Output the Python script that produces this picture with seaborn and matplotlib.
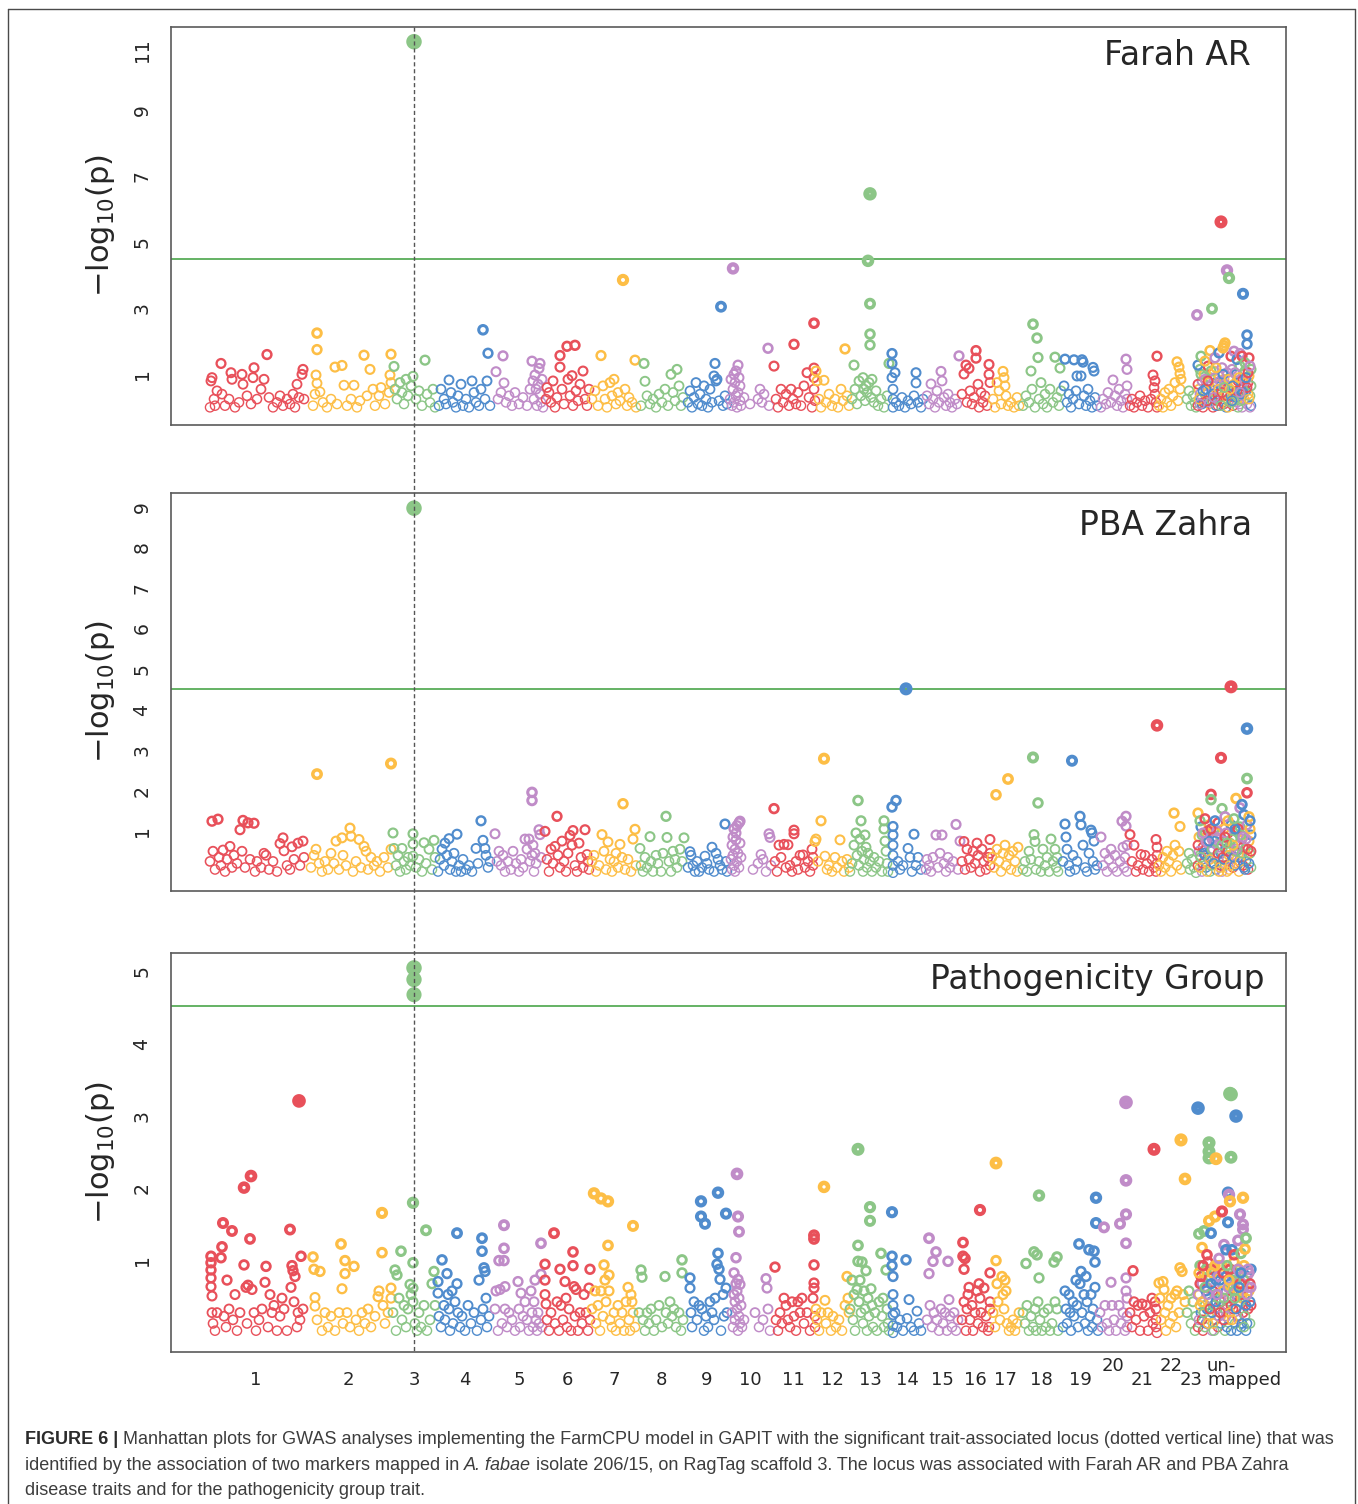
#!/usr/bin/env python3
"""
Manhattan plots (FarmCPU / GAPIT) for three traits, stacked, with the
significant locus on RagTag scaffold 3 marked by a dotted vertical line.
"""

import numpy as np
import pandas as pd
import matplotlib
matplotlib.use('Agg')
import matplotlib.pyplot as plt
from matplotlib.lines import Line2D
from matplotlib.transforms import blended_transform_factory
import seaborn as sns

# --- scaffolds -------------------------------------------------------------
chrom_names = [str(i) for i in range(1, 24)] + ['un-\nmapped']
chrom_lengths = [98, 87, 44, 58, 51, 45, 48, 47, 43, 44, 43, 35, 40, 35, 35, 30,
                 30, 42, 36, 30, 29, 29, 11, 55]
chrom_colors = ['#E8505A', '#FDBE46', '#8CC687', '#508CCD', '#C08CC8']

threshold = 4.55
locus_chrom, locus_pos = 3, 22

# --- Farah AR: (position within scaffold, -log10 p) per scaffold 1..23 -----
farah_ar_chr = [
    [(3,0.05),(4,0.85),(5,0.95),(7,0.3),(8,0.1),(10,0.55),(14,1.38),(15,0.45),(18,0.1),(22,0.3),(24,1.1),(25,0.9),(28,0.05),(32,0.2),(35,1.05),(36,0.75),(40,0.4),(44,0.15),(46,0.95),(47,1.25),(50,0.3),(54,0.6),(57,0.9),(60,1.65),(62,0.35),(66,0.05),(70,0.2),(73,0.4),(76,0.1),(80,0.3),(83,0.15),(86,0.45),(88,0.05),(90,0.75),(92,0.35),(95,1.05),(96,1.2),(97,0.3)],
    [(8,0.1),(10,0.45),(12,2.3),(12,1.8),(11,1.03),(12,0.78),(15,0.52),(18,0.2),(22,0.05),(26,0.3),(30,1.27),(32,0.15),(37,1.32),(39,0.72),(42,0.1),(46,0.3),(49,0.72),(52,0.05),(55,0.25),(59,1.63),(62,0.4),(65,1.2),(68,0.6),(70,0.1),(74,0.4),(76,0.65),(80,0.15),(84,0.5),(86,1.66),(85,1.03),(86,0.8)],
    [(2,1.29),(3,0.6),(5,0.3),(8,0.8),(10,0.5),(12,0.15),(14,0.9),(16,0.4),(19,0.7),(21,0.99),(22,11.13),(24,0.3),(27,0.55),(30,0.1),(33,1.48),(35,0.45),(38,0.2),(41,0.6),(43,0.05)],
    [(3,0.1),(5,0.6),(8,0.3),(10,0.15),(13,0.88),(15,0.5),(17,0.2),(20,0.05),(22,0.4),(25,0.75),(27,0.1),(30,0.3),(33,0.05),(36,0.85),(38,0.5),(40,0.2),(43,0.1),(45,0.6),(47,2.4),(49,0.3),(51,0.85),(52,1.69),(54,0.1)],
    [(2,1.13),(4,0.3),(7,0.5),(9,1.61),(10,0.79),(12,0.2),(15,0.4),(18,0.1),(21,0.5),(25,0.15),(29,0.35),(33,0.1),(36,0.6),(38,1.45),(39,0.85),(40,0.3),(41,1.03),(42,0.6),(43,0.1),(44,0.75),(45,1.23),(46,1.38),(46,0.45),(47,0.2),(48,0.9),(49,0.05)],
    [(1,0.3),(2,0.65),(4,0.5),(6,0.2),(8,0.85),(10,0.05),(12,0.35),(15,1.62),(15,1.27),(17,0.6),(19,0.15),(22,1.9),(23,0.9),(25,0.4),(27,1.01),(28,0.1),(30,1.93),(31,0.55),(33,0.25),(35,0.75),(38,1.15),(40,0.3),(42,0.1),(44,0.6)],
    [(2,0.3),(5,0.55),(8,0.1),(11,1.62),(13,0.7),(15,0.3),(17,0.05),(20,0.8),(22,0.4),(24,0.9),(26,0.15),(28,0.5),(30,0.25),(33,3.91),(35,0.6),(37,0.1),(39,0.35),(42,0.2),(45,1.48),(46,0.05)],
    [(3,0.1),(6,1.38),(7,0.84),(9,0.4),(12,0.15),(15,0.3),(18,0.05),(21,0.45),(24,0.2),(27,0.6),(30,0.1),(33,1.05),(35,0.5),(37,0.25),(39,1.2),(41,0.7),(43,0.1),(45,0.35)],
    [(3,0.2),(5,0.55),(7,0.05),(9,0.35),(11,0.8),(13,0.15),(15,0.45),(17,0.1),(19,0.7),(21,0.3),(23,0.05),(25,0.6),(27,0.2),(29,1.0),(30,1.38),(31,0.85),(32,0.9),(34,0.25),(36,3.1),(38,0.1),(40,0.4),(42,0.15)],
    [(2,0.3),(3,0.9),(4,0.1),(5,4.26),(5,0.6),(6,1.05),(6,0.2),(7,0.8),(8,0.4),(8,1.15),(9,0.05),(10,1.33),(10,0.5),(11,0.95),(12,0.25),(12,0.7),(13,0.1),(16,0.35),(22,0.15),(30,0.3),(32,0.6),(34,0.2),(36,0.45),(40,1.84),(41,0.1)],
    [(2,1.3),(4,0.3),(6,0.05),(9,0.6),(11,0.2),(14,0.45),(17,0.1),(19,0.6),(21,0.3),(22,1.96),(24,0.15),(26,0.5),(29,0.1),(32,0.7),(35,1.1),(37,0.35),(40,0.05),(42,2.6),(42,1.24),(42,0.95),(42,0.6),(43,0.25)],
    [(1,1.15),(2,0.85),(4,0.3),(6,0.05),(9,0.87),(11,0.2),(14,0.45),(17,0.1),(20,0.3),(23,0.05),(26,0.6),(28,0.25),(30,1.82),(32,0.4),(34,0.1)],
    [(2,0.3),(4,1.33),(5,0.6),(7,0.15),(9,0.85),(11,0.4),(13,0.95),(14,0.6),(15,0.25),(16,0.7),(17,0.5),(18,4.49),(19,0.8),(20,6.52),(20,3.19),(20,2.27),(20,1.94),(21,0.35),(22,0.9),(24,0.2),(26,0.55),(28,0.1),(31,0.3),(34,0.05),(37,0.4),(39,1.38)],
    [(2,1.68),(2,1.38),(2,0.95),(3,0.6),(3,0.3),(3,0.05),(5,1.1),(6,0.2),(9,0.1),(12,0.35),(15,0.05),(18,0.25),(21,0.15),(24,0.4),(26,1.1),(26,0.79),(28,0.2),(31,0.05),(33,0.3)],
    [(2,0.4),(4,0.15),(6,0.76),(8,0.3),(10,0.05),(12,0.55),(14,0.2),(16,1.14),(17,0.85),(19,0.35),(21,0.1),(23,0.45),(25,0.2),(27,0.05),(30,0.3),(32,0.15),(34,1.61)],
    [(2,0.45),(4,1.06),(6,1.33),(7,0.2),(9,1.23),(10,0.55),(12,0.15),(14,0.35),(16,1.77),(16,1.54),(18,0.75),(19,0.05),(21,0.5),(23,0.2),(25,0.4),(27,0.1),(29,1.35),(29,1.05),(30,0.8)],
    [(3,0.3),(5,0.05),(7,0.8),(9,0.55),(11,0.15),(13,1.14),(14,0.95),(15,0.7),(16,0.4),(18,0.1),(21,0.2),(24,0.05),(27,0.35),(29,0.1)],
    [(3,0.1),(6,0.4),(9,0.2),(11,1.15),(12,0.6),(13,2.57),(15,0.05),(17,2.15),(18,1.56),(19,0.3),(21,0.8),(23,0.15),(25,0.45),(27,0.05),(30,0.6),(33,0.2),(35,1.57),(37,0.35),(39,0.1),(40,1.24),(41,0.55)],
    [(2,0.7),(3,1.51),(5,0.2),(7,0.45),(9,0.05),(11,0.3),(12,1.49),(14,0.55),(15,1.0),(17,0.15),(19,1.0),(20,1.49),(21,1.42),(22,0.4),(24,0.1),(26,0.6),(28,0.25),(30,0.05),(31,1.26),(32,1.15),(33,0.35),(35,0.1)],
    [(3,0.05),(5,0.3),(8,0.15),(10,0.5),(13,0.2),(15,0.88),(17,0.4),(19,0.1),(21,0.6),(23,0.25),(25,0.05),(27,0.45),(28,1.51),(29,1.2),(29,0.7),(29,0.3)],
    [(2,0.1),(4,0.3),(6,0.05),(9,0.2),(12,0.4),(14,0.1),(17,0.25),(20,0.05),(23,0.3),(25,1.03),(26,0.65),(27,0.85),(27,0.45),(28,0.2),(29,1.6),(29,0.05)],
    [(2,0.1),(4,0.3),(6,0.05),(8,0.5),(10,0.2),(12,0.6),(14,0.1),(16,0.4),(18,0.8),(20,1.43),(21,0.25),(22,1.27),(23,0.6),(23,1.07),(24,0.9)],
    [(1,0.3),(3,0.55),(5,0.1),(7,0.4),(9,0.2),(10,0.05)],
]
farah_ar_unmapped = [(1,0.1),(2,0.6),(3,1.2),(4,0.3),(5,0.85),(6,0.05),(7,1.05),(8,0.45),(9,0.2),(10,0.7),(11,1.3),(12,0.15),(13,0.95),(14,0.4),(15,0.6),(16,0.05),(17,1.15),(18,0.3),(19,0.8),(20,0.55),(21,0.1),(22,1.0),(23,0.35),(24,0.7),(25,1.25),(26,0.2),(27,0.9),(28,0.5),(29,0.05),(30,1.1),(31,0.65),(32,0.25),(33,0.95),(34,0.4),(35,1.2),(36,0.1),(37,0.75),(38,0.5),(39,1.05),(40,0.2),(41,0.85),(42,0.35),(43,1.3),(44,0.6),(45,0.05),(46,0.9),(47,0.3),(48,1.15),(49,0.55),(50,0.15),(51,0.8),(52,1.0),(53,0.4),(54,0.1),
                     (3,0.45),(7,0.2),(11,0.5),(15,0.25),(19,0.1),(23,0.85),(27,0.15),(31,0.05),(35,0.55),(39,0.35),(43,0.15),(47,0.7),(51,0.45),(54,0.7),(5,0.15),(13,0.2),(21,0.45),(29,0.4),(37,0.25),(45,0.45),(53,0.05),
                     (1,0.75),(2,0.3),(4,1.05),(6,0.55),(8,0.9),(10,0.25),(12,0.8),(14,1.15),(16,0.45),(18,0.95),(20,0.25),(22,0.6),(24,0.1),(26,1.05),(28,0.75),(30,0.4),(32,0.9),(34,0.2),(36,0.7),(38,1.1),(40,0.55),(42,0.95),(44,0.25),(46,0.5),(48,0.85),(50,0.65),(52,0.3),(54,1.2),(9,0.6),(17,0.35),(25,0.5),(33,0.6),(41,0.05),(49,0.95),(3,0.15),(11,0.85),(19,1.25),(27,0.65),(35,0.25),(43,0.5),(51,1.1)]
# unmapped markers standing out from the block: (position, -log10 p, scaffold colour)
farah_ar_unmapped_top = [(0,2.85,4),(1,1.33,3),(4,1.6,2),(8,1.45,1),(13,1.77,1),(15,3.04,2),(18,1.55,4),(22,1.7,3),(24,5.67,0),(26,1.85,1),(27,1.92,1),(28,2.0,1),(30,4.2,4),(32,3.97,2),(34,1.6,0),(37,1.75,4),(40,1.5,3),(43,1.68,4),(45,1.6,0),(46,3.49,3),(48,1.4,2),(50,2.24,3),(50,1.97,3),(52,1.55,0),(53,1.3,4)]

# --- PBA Zahra -------------------------------------------------------------
pba_zahra_chr = [
    [(3,0.3),(5,1.29),(6,0.55),(8,0.1),(11,1.34),(12,0.4),(14,0.2),(16,0.58),(18,0.05),(20,0.35),(23,0.67),(25,0.15),(27,0.45),(30,0.25),(33,1.08),(35,0.55),(36,1.31),(38,0.15),(41,1.25),(43,0.35),(47,1.24),(48,0.05),(50,0.3),(54,0.15),(57,0.5),(59,0.45),(62,0.1),(66,0.3),(70,0.05),(73,0.74),(76,0.88),(77,0.56),(80,0.2),(83,0.1),(85,0.66),(87,0.35),(91,0.75),(93,0.2),(96,0.8),(97,0.4)],
    [(6,0.15),(9,0.45),(11,0.6),(12,2.45),(14,0.25),(17,0.05),(20,0.3),(23,0.1),(26,0.5),(29,0.25),(31,0.8),(34,0.1),(37,0.88),(38,0.45),(41,0.2),(45,1.12),(46,0.92),(48,0.05),(51,0.3),(54,0.84),(56,0.15),(59,0.67),(61,0.55),(63,0.1),(66,0.4),(69,0.2),(72,0.3),(75,0.05),(79,0.4),(83,0.15),(86,2.71),(86,0.6)],
    [(1,1.0),(2,0.62),(4,0.2),(6,0.45),(8,0.05),(10,0.62),(12,0.3),(14,0.1),(16,0.4),(18,0.2),(21,0.98),(21,0.73),(21,0.43),(22,9.0),(24,0.15),(27,0.35),(30,0.05),(32,0.76),(34,0.25),(37,0.6),(40,0.1),(42,0.82),(43,0.4)],
    [(2,0.05),(4,0.35),(6,0.6),(8,0.2),(9,0.75),(11,0.45),(13,0.86),(14,0.1),(16,0.3),(18,0.5),(20,0.05),(21,0.97),(23,0.2),(25,0.05),(27,0.35),(30,0.1),(33,0.2),(36,0.05),(40,0.62),(42,0.25),(45,1.3),(47,0.82),(49,0.62),(50,0.45),(52,0.15),(54,0.3)],
    [(1,0.98),(3,0.3),(5,0.55),(7,0.2),(9,0.45),(11,0.05),(14,0.3),(17,0.1),(19,0.55),(22,0.25),(25,0.05),(27,0.35),(29,0.15),(31,0.85),(33,0.6),(35,0.85),(36,0.3),(38,2.0),(38,1.8),(38,0.45),(39,0.7),(40,0.05),(41,0.5),(42,0.25),(45,1.08),(46,0.96),(47,0.4)],
    [(0,1.04),(2,0.35),(4,0.05),(6,0.6),(8,0.25),(10,0.67),(12,1.41),(13,0.45),(15,0.15),(17,0.8),(19,0.3),(21,0.05),(23,0.5),(25,0.94),(27,0.7),(28,1.06),(30,0.2),(32,0.05),(34,0.75),(36,0.4),(38,0.15),(40,1.08),(42,0.47),(43,0.3),(44,0.1)],
    [(2,0.3),(4,0.45),(6,0.05),(9,0.2),(12,0.96),(14,0.55),(16,0.1),(18,0.78),(20,0.35),(22,0.05),(24,0.3),(26,0.5),(28,0.15),(30,0.72),(32,0.4),(33,1.72),(35,0.1),(38,0.35),(41,0.05),(43,0.85),(45,1.09),(46,0.2)],
    [(2,0.62),(3,0.2),(5,0.05),(7,0.4),(9,0.15),(12,0.91),(13,0.3),(15,0.05),(18,0.45),(20,0.25),(23,0.05),(25,0.5),(28,1.41),(29,0.89),(31,0.3),(33,0.05),(35,0.55),(37,0.35),(39,0.15),(42,0.6),(44,0.3),(46,0.88)],
    [(3,0.15),(5,0.54),(6,0.45),(8,0.2),(10,0.05),(12,0.3),(14,0.05),(17,0.15),(20,0.43),(22,0.25),(24,0.1),(27,0.65),(29,0.05),(31,0.5),(33,0.35),(35,0.2),(37,0.1),(40,1.22),(41,0.3),(42,0.05)],
    [(3,0.35),(4,0.1),(4,0.7),(5,0.45),(5,0.9),(6,0.2),(6,1.1),(7,0.6),(7,0.05),(8,0.83),(8,1.0),(9,0.3),(9,1.18),(10,0.5),(11,1.25),(11,0.15),(12,1.29),(12,0.75),(13,0.4),(25,0.1),(30,0.25),(33,0.47),(35,0.35),(38,0.05),(41,0.98),(42,0.89),(43,0.2)],
    [(2,1.6),(3,0.3),(5,0.05),(7,0.7),(9,0.4),(12,0.72),(14,0.15),(16,0.71),(18,0.2),(20,0.05),(22,1.07),(22,0.98),(24,0.3),(26,0.1),(28,0.45),(31,0.46),(33,0.15),(36,0.3),(38,0.05),(40,0.6),(41,0.4),(41,0.2)],
    [(0,0.79),(1,0.85),(3,0.3),(6,1.3),(9,2.83),(10,0.43),(12,0.1),(14,0.2),(17,0.05),(20,0.4),(22,0.15),(25,0.83),(27,0.3),(29,0.05),(32,0.35),(34,0.15)],
    [(0,0.05),(2,0.25),(4,0.7),(6,1.0),(7,0.45),(8,1.8),(9,0.2),(10,0.85),(11,1.3),(12,0.55),(13,0.05),(14,0.35),(15,0.95),(16,0.65),(17,0.15),(18,0.5),(20,0.3),(22,0.05),(24,0.4),(26,0.15),(29,0.3),(32,0.05),(34,1.3),(34,1.1),(35,0.8),(36,0.55),(37,0.25),(38,0.05)],
    [(2,1.64),(3,1.16),(3,0.95),(3,0.7),(3,0.45),(3,0.2),(3,0.02),(6,1.8),(8,0.3),(10,0.1),(13,0.2),(16,4.55),(18,0.62),(20,0.4),(22,0.05),(24,0.97),(26,0.2),(28,0.4),(31,0.1)],
    [(1,0.1),(2,0.35),(4,0.2),(6,0.05),(8,0.4),(11,0.95),(13,0.15),(15,0.5),(17,0.95),(19,0.25),(21,0.05),(23,0.4),(25,0.15),(28,0.3),(31,1.21),(33,0.1),(35,0.8)],
    [(2,0.3),(4,0.79),(5,0.1),(7,0.6),(9,0.35),(11,0.15),(13,0.55),(15,0.25),(17,0.75),(18,0.45),(20,0.05),(22,0.6),(24,0.3),(26,0.1),(28,0.4),(30,0.84),(30,0.5),(30,0.2)],
    [(2,0.4),(4,0.15),(6,1.94),(7,0.6),(9,0.3),(11,0.05),(13,0.5),(15,0.7),(16,0.2),(18,2.33),(19,0.45),(21,0.1),(23,0.55),(25,0.3),(27,0.05),(28,0.65)],
    [(3,0.1),(5,0.3),(7,0.05),(9,0.55),(11,0.35),(13,2.86),(14,0.96),(15,0.79),(16,0.1),(18,1.74),(19,0.3),(21,0.05),(23,0.6),(25,0.2),(27,0.4),(29,0.05),(31,0.85),(33,0.3),(35,0.6),(36,0.15),(37,0.4),(38,0.05)],
    [(1,0.3),(3,1.22),(4,0.9),(5,0.6),(7,0.2),(8,0.05),(10,2.78),(11,0.45),(13,0.1),(15,0.3),(18,1.41),(19,1.2),(21,0.7),(23,0.15),(25,0.05),(27,0.5),(29,1.07),(30,1.0),(31,0.3),(32,0.8),(33,0.1),(35,0.2)],
    [(3,0.9),(5,0.2),(7,0.5),(9,0.05),(11,0.35),(13,0.6),(15,0.15),(17,0.45),(19,0.05),(22,0.3),(24,1.29),(25,0.65),(26,0.15),(27,0.4),(28,1.41),(28,1.17),(29,0.7),(29,0.05)],
    [(2,0.96),(4,0.3),(6,0.7),(8,0.05),(10,0.2),(13,0.47),(15,0.1),(17,0.45),(19,0.25),(21,0.05),(24,0.35),(26,0.15),(28,0.84),(29,0.65),(29,0.45),(29,0.25),(29,3.65),(28,0.05)],
    [(2,0.2),(4,0.05),(6,0.4),(8,0.15),(10,0.55),(12,0.3),(14,0.05),(16,0.45),(17,1.49),(18,0.7),(20,0.2),(22,0.55),(23,1.16),(24,0.1)],
    [(1,0.25),(3,0.5),(4,0.1),(6,0.35),(8,0.15),(10,0.02)],
]
pba_zahra_unmapped = [(1,0.2),(2,0.9),(3,0.45),(4,1.15),(5,0.05),(6,0.65),(7,0.3),(8,1.0),(9,0.15),(10,0.75),(11,0.4),(12,1.2),(13,0.05),(14,0.55),(15,0.85),(16,0.25),(17,1.05),(18,0.4),(19,0.1),(20,0.7),(21,1.25),(22,0.3),(23,0.95),(24,0.5),(25,0.05),(26,0.8),(27,1.1),(28,0.2),(29,0.6),(30,0.35),(31,1.0),(32,0.1),(33,0.75),(34,1.2),(35,0.45),(36,0.15),(37,0.9),(38,0.55),(39,1.05),(40,0.25),(41,0.7),(42,0.05),(43,1.15),(44,0.4),(45,0.85),(46,0.2),(47,1.0),(48,0.6),(49,0.3),(50,1.2),(51,0.1),(52,0.8),(53,0.5),(54,0.95),
                      (2,0.55),(6,0.25),(10,0.05),(14,0.2),(18,0.8),(22,0.65),(26,0.4),(30,0.05),(34,0.6),(38,0.2),(42,0.5),(46,0.65),(50,0.45),(54,0.15),(8,0.45),(16,0.6),(24,0.2),(32,0.45),(40,0.55),(48,0.1),(12,0.35),
                      (1,0.7),(3,0.15),(5,0.95),(7,0.5),(9,0.8),(11,1.05),(13,0.35),(15,0.6),(17,0.25),(19,0.9),(21,0.5),(23,0.15),(25,0.7),(27,0.35),(29,1.0),(31,0.55),(33,0.2),(35,0.85),(37,0.4),(39,0.6),(41,1.1),(43,0.3),(45,0.5),(47,0.15),(49,0.85),(51,0.6),(53,1.1),(4,0.4),(12,0.8),(20,1.05),(28,0.9),(36,0.7),(44,0.95),(52,0.25),(6,1.0),(14,1.1),(22,0.05),(30,0.75),(38,1.1),(46,0.9),(54,0.55)]
pba_zahra_unmapped_top = [(1,1.49,1),(3,1.3,2),(8,1.35,0),(14,1.95,0),(14,1.82,2),(18,1.3,3),(24,2.85,0),(25,1.6,2),(28,1.4,4),(31,1.3,1),(34,4.6,0),(37,1.35,2),(39,1.85,1),(43,1.62,4),(45,1.7,3),(47,1.45,3),(50,3.57,3),(50,2.34,2),(50,1.99,0),(52,1.4,1),(53,1.3,3)]

# --- Pathogenicity group -----------------------------------------------------
patho_group_chr = [
    [(4,1.08),(4,0.99),(4,0.89),(4,0.78),(4,0.66),(5,0.53),(5,0.3),(6,0.15),(8,0.05),(10,0.3),(14,1.06),(15,1.21),(16,1.54),(17,0.25),(19,0.1),(20,0.75),(22,0.35),(25,1.43),(26,0.2),(28,0.55),(30,0.05),(33,0.3),(37,2.03),(37,0.96),(39,0.65),(40,0.15),(41,0.68),(43,1.32),(44,2.19),(45,0.62),(47,0.3),(49,0.05),(52,0.2),(55,0.35),(58,0.72),(59,0.94),(61,0.1),(63,0.55),(65,0.3),(67,0.4),(70,0.05),(73,0.25),(75,0.5),(77,0.35),(80,0.05),(83,1.45),(84,0.65),(85,0.95),(86,0.88),(87,0.45),(88,0.8),(90,0.1),(91,0.3),(92,3.23),(93,0.2),(94,1.08),(96,0.35)],
    [(8,1.07),(9,0.9),(10,0.51),(10,0.39),(12,0.2),(15,0.87),(17,0.05),(20,0.3),(23,0.1),(26,0.25),(30,0.05),(34,0.3),(36,1.25),(37,0.63),(38,0.15),(40,1.02),(40,0.84),(42,0.3),(45,0.1),(49,0.94),(51,0.2),(54,0.05),(57,0.3),(60,0.15),(63,0.35),(66,0.1),(70,0.25),(73,0.52),(74,0.6),(77,1.68),(77,1.13),(78,0.4),(80,0.15),(83,0.3),(86,0.64),(86,0.5)],
    [(1,0.3),(3,0.89),(4,0.05),(5,0.82),(7,0.5),(9,1.15),(10,0.2),(12,0.4),(14,0.1),(16,0.35),(18,0.69),(19,0.55),(21,1.82),(21,0.99),(21,0.64),(21,0.45),(22,5.07),(22,4.91),(22,4.70),(23,0.15),(25,0.05),(27,0.3),(29,0.1),(32,0.4),(34,1.44),(35,0.05),(38,0.2),(40,0.7),(42,0.87),(43,0.4)],
    [(2,0.73),(2,0.57),(3,0.25),(5,0.1),(6,1.03),(8,0.4),(9,0.2),(11,0.84),(12,0.55),(13,0.35),(14,0.05),(16,0.6),(17,0.15),(19,0.45),(21,1.4),(21,0.7),(22,0.3),(24,0.1),(26,0.25),(29,0.05),(32,0.4),(35,0.15),(38,0.3),(41,0.05),(43,0.75),(45,0.2),(46,1.33),(46,1.15),(47,0.35),(48,0.92),(49,0.87),(50,0.5),(51,0.1),(53,0.25)],
    [(1,0.35),(2,0.6),(4,0.05),(5,1.02),(6,0.62),(8,0.15),(10,1.51),(10,1.19),(10,1.02),(11,0.66),(11,0.35),(13,0.1),(15,0.3),(18,0.2),(21,0.05),(24,0.73),(25,0.35),(26,0.1),(27,0.57),(29,0.25),(31,0.45),(33,0.2),(35,0.05),(37,0.6),(38,0.3),(39,0.1),(40,0.45),(41,0.75),(42,0.2),(43,0.05),(44,0.3),(45,0.15),(47,1.26),(47,0.83),(48,0.1)],
    [(0,0.97),(0,0.75),(0,0.55),(1,0.42),(2,0.2),(4,0.05),(6,0.3),(9,1.4),(10,0.15),(12,0.45),(14,0.05),(15,0.9),(16,0.4),(18,0.2),(20,0.73),(21,0.5),(22,0.1),(24,0.35),(26,0.05),(28,1.14),(28,0.95),(29,0.66),(30,0.25),(31,0.62),(33,0.05),(35,0.3),(37,0.15),(39,0.55),(41,0.3),(43,0.05),(44,0.64),(45,0.9),(45,0.2)],
    [(2,0.35),(4,1.95),(5,0.6),(6,0.15),(8,0.4),(10,0.05),(11,1.88),(11,0.6),(13,0.25),(14,0.96),(15,0.75),(16,0.45),(18,1.84),(18,1.23),(19,0.82),(19,0.6),(20,0.2),(22,0.1),(24,0.3),(26,0.05),(28,0.4),(30,0.15),(32,0.3),(34,0.05),(36,0.45),(38,0.65),(39,0.2),(40,0.05),(41,0.55),(42,0.45),(43,1.5),(43,0.3),(45,0.1)],
    [(1,0.3),(3,0.89),(4,0.79),(5,0.2),(7,0.05),(9,0.3),(11,0.15),(13,0.35),(16,0.05),(18,0.2),(21,0.4),(24,0.1),(27,0.8),(28,0.3),(30,0.15),(32,0.45),(34,0.25),(36,0.35),(38,0.1),(41,0.3),(43,0.05),(44,1.03),(44,0.85),(45,0.2)],
    [(5,0.78),(5,0.64),(6,0.3),(7,0.1),(9,0.45),(12,0.2),(14,0.4),(16,1.84),(16,1.63),(17,0.35),(19,0.05),(20,1.53),(21,0.25),(23,0.1),(25,0.45),(27,0.3),(29,0.2),(30,0.5),(32,0.97),(33,1.96),(33,1.12),(34,0.9),(35,0.76),(36,0.05),(38,0.55),(39,0.25),(41,1.67),(41,0.64),(42,0.3)],
    [(4,0.3),(5,0.1),(6,0.55),(6,0.85),(7,0.2),(7,0.45),(8,0.7),(8,1.06),(9,2.22),(9,0.6),(9,0.35),(10,1.63),(10,0.76),(10,0.05),(11,1.42),(11,0.5),(11,0.25),(12,0.69),(12,0.15),(13,0.4),(14,0.1),(16,0.2),(27,0.3),(31,0.1),(35,0.2),(38,0.77),(39,0.64),(40,0.35),(42,0.05)],
    [(3,0.93),(4,0.2),(6,0.05),(8,0.3),(10,0.15),(12,0.5),(14,0.4),(16,0.2),(18,0.1),(20,0.45),(22,0.25),(24,0.05),(26,0.45),(28,0.3),(30,0.5),(32,0.15),(35,0.3),(38,0.05),(41,0.5),(42,1.37),(42,1.32),(42,0.96),(42,0.71),(42,0.64),(43,0.25),(43,0.1)],
    [(1,0.35),(2,0.2),(4,0.05),(6,0.3),(9,2.04),(10,0.47),(11,0.15),(13,0.3),(16,0.05),(18,0.25),(21,0.1),(24,0.2),(27,0.05),(30,0.4),(32,0.8),(33,0.5),(34,0.3)],
    [(0,0.35),(2,0.75),(3,0.2),(4,0.55),(5,0.05),(7,0.62),(8,2.56),(8,1.23),(8,1.01),(9,0.45),(10,0.75),(11,0.3),(12,1.0),(13,0.15),(14,0.6),(15,0.35),(16,0.88),(17,0.05),(18,0.5),(19,0.25),(20,1.76),(20,1.57),(21,0.63),(22,0.4),(23,0.1),(25,0.3),(27,0.05),(29,0.45),(31,1.12),(32,0.25),(33,0.5),(34,0.1),(36,0.89),(37,0.35),(38,0.15),(39,0.05)],
    [(2,1.69),(2,1.08),(2,0.95),(3,0.8),(3,0.55),(3,0.4),(3,0.27),(3,0.12),(3,0.02),(5,0.3),(7,0.1),(10,0.2),(13,0.05),(16,1.03),(17,0.22),(19,0.48),(21,0.1),(24,0.05),(27,0.32),(29,0.15),(31,0.05)],
    [(2,0.2),(4,1.33),(4,0.84),(5,0.4),(7,0.1),(8,1.01),(9,0.3),(11,1.14),(12,0.2),(14,0.05),(16,0.35),(18,0.15),(20,0.3),(22,0.05),(23,1.01),(24,0.48),(25,0.25),(27,0.1),(29,0.3),(31,0.05),(33,0.2)],
    [(2,0.2),(3,1.27),(3,1.08),(4,0.9),(4,0.45),(5,1.05),(6,0.05),(7,0.35),(8,0.55),(9,0.65),(10,0.2),(12,0.4),(13,0.05),(15,0.3),(17,0.6),(18,0.15),(19,0.7),(20,1.72),(20,0.5),(21,0.3),(23,0.1),(24,0.64),(26,0.25),(28,0.05),(30,0.85),(30,0.45),(30,0.35),(29,0.1)],
    [(3,0.3),(5,0.1),(6,2.37),(6,1.02),(7,0.7),(8,0.45),(10,0.2),(12,0.8),(13,0.55),(14,0.35),(15,0.75),(16,0.6),(17,0.15),(19,0.05),(21,0.1),(23,0.2),(25,0.05),(27,0.15),(29,0.3)],
    [(3,0.3),(5,0.15),(6,0.98),(7,0.4),(9,0.05),(11,0.25),(13,0.1),(14,1.14),(15,0.35),(16,0.05),(17,1.1),(18,0.45),(19,1.92),(19,0.78),(20,0.2),(22,0.05),(24,0.3),(26,0.1),(28,0.35),(30,0.05),(32,0.15),(34,1.0),(35,0.45),(37,1.07),(37,0.35),(38,0.05)],
    [(1,0.1),(3,0.6),(4,0.35),(5,0.15),(7,0.55),(8,0.3),(9,0.05),(11,0.45),(12,0.25),(14,0.75),(15,0.4),(16,0.1),(17,1.25),(18,0.7),(19,0.87),(20,0.3),(22,0.55),(23,0.15),(24,0.8),(25,0.45),(26,0.05),(27,1.17),(28,0.25),(29,0.55),(30,0.1),(31,0.35),(32,1.15),(33,1.0),(33,0.65),(34,1.89),(34,1.54),(35,0.2),(36,0.05)],
    [(2,0.3),(4,0.1),(6,1.48),(7,0.4),(9,0.15),(11,0.05),(13,0.72),(14,0.4),(16,0.2),(18,0.05),(21,0.4),(22,1.53),(23,0.15),(25,0.3),(27,0.05),(28,3.21),(28,2.13),(28,1.66),(28,1.26),(28,0.78),(28,0.6),(29,0.5),(29,0.25),(29,0.1)],
    [(2,0.3),(4,0.1),(5,0.88),(6,0.45),(8,0.2),(10,0.4),(12,0.05),(14,0.42),(16,0.25),(18,0.4),(20,0.05),(22,0.3),(24,0.5),(25,0.15),(26,2.56),(27,0.45),(28,0.35),(28,0.2),(28,0.1),(29,0.02)],
    [(2,0.71),(3,0.5),(4,0.2),(6,0.73),(7,0.62),(8,0.3),(9,0.05),(11,0.4),(13,0.15),(14,0.5),(16,0.25),(18,0.55),(19,0.1),(20,0.6),(22,0.3),(23,0.92),(24,2.69),(25,0.87),(26,0.55),(28,2.15),(28,0.45)],
    [(1,0.3),(3,0.6),(5,0.15),(7,0.45),(9,0.05),(10,0.25)],
]
patho_group_unmapped = [(1,0.1),(2,0.55),(3,0.95),(4,0.3),(5,0.7),(6,0.05),(7,0.85),(8,0.4),(9,0.15),(10,0.65),(11,1.0),(12,0.25),(13,0.8),(14,0.45),(15,0.05),(16,0.6),(17,0.9),(18,0.2),(19,0.75),(20,0.35),(21,0.1),(22,0.95),(23,0.5),(24,0.15),(25,0.7),(26,0.3),(27,0.85),(28,0.05),(29,0.6),(30,0.4),(31,0.9),(32,0.2),(33,0.65),(34,0.05),(35,0.8),(36,0.35),(37,1.0),(38,0.15),(39,0.55),(40,0.75),(41,0.25),(42,0.9),(43,0.45),(44,0.1),(45,0.7),(46,0.3),(47,0.95),(48,0.5),(49,0.05),(50,0.8),(51,0.35),(52,0.6),(53,0.15),(54,0.9),
                        (2,0.2),(4,0.8),(6,0.45),(8,0.1),(10,0.35),(12,0.5),(14,0.9),(16,0.15),(18,0.55),(20,0.8),(22,0.25),(24,0.45),(26,0.6),(28,0.35),(30,0.1),(32,0.5),(34,0.4),(36,0.65),(38,0.8),(40,0.05),(42,0.2),(44,0.55),(46,0.6),(48,0.25),(50,0.15),(52,0.85),(54,0.4),
                        (3,0.4),(9,0.9),(15,0.3),(21,0.55),(27,0.2),(33,0.3),(39,0.85),(45,0.15),(51,0.65),(5,0.2),(11,0.15),(17,0.4),(23,0.75),(29,0.25),(35,0.5),(41,0.6),(47,0.1),(53,0.45),
                        (1,0.55),(3,0.7),(5,0.45),(7,0.3),(9,0.6),(11,0.55),(13,0.35),(15,0.85),(17,0.05),(19,0.45),(21,0.8),(23,0.3),(25,0.95),(27,0.5),(29,0.8),(31,0.65),(33,0.9),(35,0.2),(37,0.6),(39,0.35),(41,0.9),(43,0.7),(45,0.5),(47,0.75),(49,0.4),(51,0.9),(53,0.7),(2,0.85),(8,0.65),(14,0.7),(20,0.55),(26,0.85),(32,0.75),(38,0.5),(44,0.85),(50,0.55),(6,0.95),(18,0.95),(30,0.95),(42,0.65),(54,0.65)]
patho_group_unmapped_top = [(1,3.13,3),(2,1.39,2),(5,1.2,1),(7,1.43,2),(10,1.1,0),(12,2.65,2),(12,2.53,2),(12,2.44,2),(12,1.57,1),(14,1.4,3),(18,1.63,1),(19,2.43,1),(22,1.05,4),(25,1.7,0),(27,1.24,4),(29,1.17,3),(31,1.96,3),(31,1.55,3),(32,1.93,4),(33,3.33,2),(33,1.84,1),(34,3.32,2),(34,2.45,2),(35,1.17,3),(37,1.1,0),(39,3.02,3),(41,1.3,4),(43,1.66,4),(44,1.12,2),(46,1.89,1),(46,1.52,4),(46,1.45,4),(48,1.18,1),(49,1.33,2)]

# --- figure geometry (pixels of the 1358 x 1504 target) ----------------------
DPI = 100
W, H = 1358, 1504
PT = 72.0 / DPI
starts = np.concatenate([[0], np.cumsum(chrom_lengths)[:-1]])


def build_frame(chr_points, unmapped, unmapped_top):
    rows = []
    for i, pts in enumerate(chr_points):
        for pos, lp in pts:
            rows.append((starts[i] + pos, lp, i % 5))
    # many tiny unmapped scaffolds, colours keep cycling
    for j, (pos, lp) in enumerate(unmapped):
        rows.append((starts[23] + pos, lp, j % 5))
    for pos, lp, grp in unmapped_top:
        rows.append((starts[23] + pos, lp, grp))
    return pd.DataFrame(rows, columns=['x', 'logp', 'group'])


def draw_manhattan(ax, df):
    # ring gets thicker (and a bit larger) with -log10(p), like GAPIT
    f = df['logp'].to_numpy() / df['logp'].max()
    outer = 10.5 + 5 * f
    ring = np.minimum(1.3 + 8 * f, outer / 2)
    sizes = ((outer - ring) * PT) ** 2
    sns.scatterplot(data=df, x='x', y='logp', hue='group',
                    palette=dict(enumerate(chrom_colors)), legend=False,
                    ax=ax, zorder=3)
    pc = ax.collections[-1]
    pc.set_edgecolors(pc.get_facecolors())
    pc.set_facecolors('none')
    pc.set_sizes(sizes)
    pc.set_linewidths(ring * PT)


sns.set_style('white')
plt.rcParams['font.family'] = ['DejaVu Sans']

fig = plt.figure(figsize=(W / DPI, H / DPI), dpi=DPI)

panels = [
    ('Farah AR', build_frame(farah_ar_chr, farah_ar_unmapped, farah_ar_unmapped_top),
     [1, 3, 5, 7, 9, 11], (-0.485, 11.576), 27, 425, (1251, 65)),
    ('PBA Zahra', build_frame(pba_zahra_chr, pba_zahra_unmapped, pba_zahra_unmapped_top),
     list(range(1, 10)), (-0.429, 9.374), 493, 891, (1252, 535)),
    ('Pathogenicity Group', build_frame(patho_group_chr, patho_group_unmapped, patho_group_unmapped_top),
     [1, 2, 3, 4, 5], (-0.245, 5.277), 953, 1352, (1264, 989)),
]

LEFT, RIGHT = 171, 1286
axes = []
for title, df, yticks, ylim, top, bottom, (tx, ty) in panels:
    ax = fig.add_axes([LEFT / W, 1 - bottom / H, (RIGHT - LEFT) / W, (bottom - top) / H])
    draw_manhattan(ax, df)
    ax.axhline(threshold, color='#58AD58', lw=1.3, zorder=2)
    ax.set_xlim(-36, 1079)
    ax.set_ylim(*ylim)
    ax.set_xticks([])
    ax.set_xlabel('')
    ax.set_yticks(yticks)
    ax.set_yticklabels([str(t) for t in yticks])
    ax.tick_params(axis='y', length=0, pad=14, labelsize=13.5, labelrotation=90)
    ax.set_ylabel(r'$-\mathrm{log}_{10}(\mathrm{p})$', fontsize=22)
    ax.yaxis.set_label_coords(-0.048, 0.5)
    for sp in ax.spines.values():
        sp.set_color('#5a5a5a')
        sp.set_linewidth(1.2)
    ax.text((tx - LEFT) / (RIGHT - LEFT), 1 - (ty - top) / (bottom - top), title,
            transform=ax.transAxes, ha='right', va='baseline', fontsize=23.7)
    axes.append(ax)

# dotted line through all three panels at the associated locus
locus_x = starts[locus_chrom - 1] + locus_pos
xf = fig.transFigure.inverted().transform(axes[0].transData.transform((locus_x, 0)))[0]
fig.add_artist(Line2D([xf, xf], [1 - 27 / H, 1 - 1352 / H], transform=fig.transFigure,
                      color='#555555', lw=1.0, ls=(0, (3, 2)), zorder=5))

# scaffold labels under the bottom panel
ax3 = axes[-1]
trans = blended_transform_factory(ax3.transData, ax3.transAxes)
low_row, high_row = -(1380 - 1352) / 399, -(1366 - 1352) / 399
mids = starts + np.array(chrom_lengths) / 2
for name, m in zip(chrom_names[:-1], mids[:-1]):
    yrow = high_row if name in ('20', '22') else low_row
    ax3.text(m, yrow, name, transform=trans, ha='center', va='center', fontsize=13)
# two-line label for the unmapped scaffolds, sitting just right of "23"
ax3.text(starts[23] + 10, (low_row + high_row) / 2, chrom_names[-1], transform=trans,
         ha='left', va='center', multialignment='left', linespacing=0.75, fontsize=13)

# outer frame of the published figure
frame_kw = dict(transform=fig.transFigure, color='#4a4a4a', lw=1.0)
fig.add_artist(Line2D([8 / W, 8 / W], [0, 1 - 9 / H], **frame_kw))
fig.add_artist(Line2D([1355 / W, 1355 / W], [0, 1 - 9 / H], **frame_kw))
fig.add_artist(Line2D([8 / W, 1355 / W], [1 - 9 / H, 1 - 9 / H], **frame_kw))

# caption
renderer = fig.canvas.get_renderer()
cap_font = 'Liberation Sans'
cap_lines = [
    [('FIGURE 6 |', 'bold', 'normal'),
     ('Manhattan plots for GWAS analyses implementing the FarmCPU model in GAPIT with the '
      'significant trait-associated locus (dotted vertical line) that was', 'normal', 'normal')],
    [('identified by the association of two markers mapped in', 'normal', 'normal'),
     ('A. fabae', 'normal', 'italic'),
     ('isolate 206/15, on RagTag scaffold 3. The locus was associated with Farah AR and PBA Zahra',
      'normal', 'normal')],
    [('disease traits and for the pathogenicity group trait.', 'normal', 'normal')],
]
cap_baselines = [1444, 1470, 1495]


def text_width(s, size, weight='normal', style='normal'):
    t = fig.text(0, 0, s, fontsize=size, fontweight=weight, style=style, family=cap_font)
    w = t.get_window_extent(renderer).width
    t.remove()
    return w


def draw_runs(runs, y_px, size):
    space = text_width('a a', size) - text_width('aa', size)
    x = 25.0
    for s, weight, style in runs:
        t = fig.text(x / W, 1 - y_px / H, s, fontsize=size, fontweight=weight, style=style,
                     family=cap_font, color='#2b2b2b' if weight == 'bold' else '#3d3d3d',
                     va='baseline', ha='left')
        x = t.get_window_extent(renderer).x1 + space


# scale caption so the first line spans the same width as in the figure
base = 10.0
w0 = sum(text_width(s, base, wt, st) for s, wt, st in cap_lines[0])
w0 += (text_width('a a', base) - text_width('aa', base)) * (len(cap_lines[0]) - 1)
cap_size = base * (1336 - 25) / w0
for runs, yb in zip(cap_lines, cap_baselines):
    draw_runs(runs, yb, cap_size)

fig.savefig('out.png', dpi=DPI, facecolor='white')
